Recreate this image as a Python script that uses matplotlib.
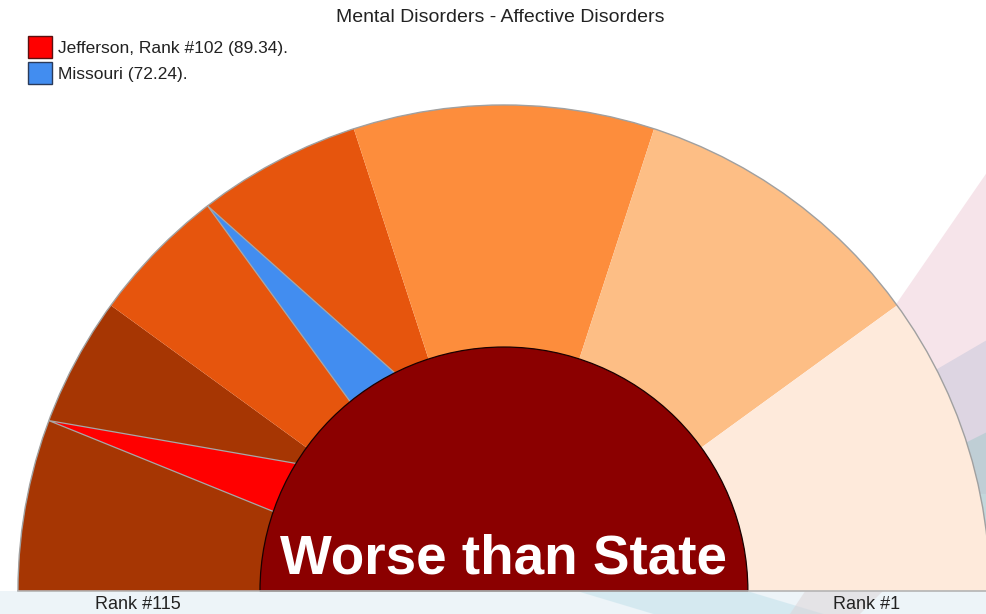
import numpy as np
import matplotlib
matplotlib.use("Agg")
import matplotlib.pyplot as plt
from matplotlib.patches import Wedge, Arc, Polygon, Patch

plt.rcParams["font.family"] = ["Liberation Sans", "DejaVu Sans"]

# gauge data
title = "Mental Disorders - Affective Disorders"
n_ranks = 115
county_name = "Jefferson"
county_rank = 102
county_value = 89.34
state_name = "Missouri"
state_value = 72.24
state_rank_pos = 81.8
band_colors = ["#a63603", "#e6550d", "#fd8d3c", "#fdbe85", "#feeadb"]
center_label = "Worse than State"
end_labels = ["Rank #115", "Rank #1"]

R_OUT = 1.0
R_IN = 0.502


def rank_to_angle(rank):
    # rank 1 sits on the right (0 deg), last rank on the left (180 deg)
    return 180.0 * (rank - 1) / (n_ranks - 1)


def needle(ax, rank, color):
    th = rank_to_angle(rank)
    apex = np.array([np.cos(np.radians(th)), np.sin(np.radians(th))]) * R_OUT
    pts = [apex]
    for off in (1.5, -11.0):
        a = np.radians(th + off)
        q = np.array([np.cos(a), np.sin(a)]) * R_IN
        pts.append(apex + 1.15 * (q - apex))
    ax.add_patch(Polygon(pts, closed=True, facecolor=color,
                         edgecolor="#a8a8a8", lw=0.9, zorder=4))


fig = plt.figure(figsize=(9.86, 6.14), dpi=100)
ax = fig.add_axes([0, 0, 1, 1])
ax.set_xlim(-1.037, 0.992)
ax.set_ylim(-0.0473, 1.216)
ax.axis("off")

# faint background decoration on the right and the strip under the gauge
ax.add_patch(Polygon([(0.80, 0.58), (1.0, 0.87), (1.0, 0.2), (0.90, 0.2)],
                     facecolor="#e9bccb", alpha=0.4, lw=0, zorder=0))
ax.add_patch(Polygon([(0.88, 0.45), (1.0, 0.52), (1.0, 0.1), (0.93, 0.1)],
                     facecolor="#b8bfd6", alpha=0.4, lw=0, zorder=0))
ax.add_patch(Polygon([(0.94, 0.30), (1.0, 0.33), (1.0, 0.0), (0.97, 0.0)],
                     facecolor="#9cc6c6", alpha=0.45, lw=0, zorder=0))
ax.add_patch(Polygon([(-1.05, 0.0), (1.0, 0.0), (1.0, -0.06), (-1.05, -0.06)],
                     facecolor="#edf4f8", lw=0, zorder=0))
ax.add_patch(Polygon([(0.15, 0.0), (0.5, 0.0), (0.7, -0.06), (0.35, -0.06)],
                     facecolor="#bfe0ea", alpha=0.5, lw=0, zorder=0))
ax.add_patch(Polygon([(0.62, 0.0), (0.78, 0.0), (0.72, -0.06), (0.58, -0.06)],
                     facecolor="#dcd3d6", alpha=0.5, lw=0, zorder=0))

# colour bands
edges = np.linspace(180, 0, len(band_colors) + 1)
for col, a0, a1 in zip(band_colors, edges[:-1], edges[1:]):
    ax.add_patch(Wedge((0, 0), R_OUT, a1, a0, facecolor=col, lw=0, zorder=2))
ax.add_patch(Arc((0, 0), 2 * R_OUT, 2 * R_OUT, theta1=0, theta2=180,
                 color="#a0a0a0", lw=1.0, zorder=3))

needle(ax, county_rank, "#ff0000")
needle(ax, state_rank_pos, "#428df0")

# centre disc
ax.add_patch(Wedge((0, 0), R_IN, 0, 180, facecolor="#8b0000",
                   edgecolor="#1a0000", lw=0.9, zorder=5))
ax.plot([-R_OUT, R_OUT], [0, 0], color="#b4b4b4", lw=1.2, zorder=6)
ax.text(0, 0.035, center_label, ha="center", va="baseline", color="white",
        fontsize=39.5, fontweight="bold", zorder=7)

ax.text(-0.753, -0.027, end_labels[0], ha="center", va="center",
        fontsize=13, color="#222222")
ax.text(0.747, -0.027, end_labels[1], ha="center", va="center",
        fontsize=13, color="#222222")

fig.text(0.5076, 1 - 18 / 614, title, ha="center", va="center",
         fontsize=14, color="#222222")

handles = [
    Patch(facecolor="#ff0000", edgecolor="#5a1010",
          label=f"{county_name}, Rank #{county_rank} ({county_value:.2f})."),
    Patch(facecolor="#428df0", edgecolor="#2a3a5a",
          label=f"{state_name} ({state_value:.2f})."),
]
fig.legend(handles=handles, loc="upper left",
           bbox_to_anchor=(28 / 986, 1 - 36 / 614), frameon=False,
           fontsize=12.5, handlelength=1.4, handleheight=1.55,
           handletextpad=0.3, labelspacing=0.27, borderpad=0,
           borderaxespad=0, labelcolor="#222222")

fig.savefig("out.png", dpi=100)
